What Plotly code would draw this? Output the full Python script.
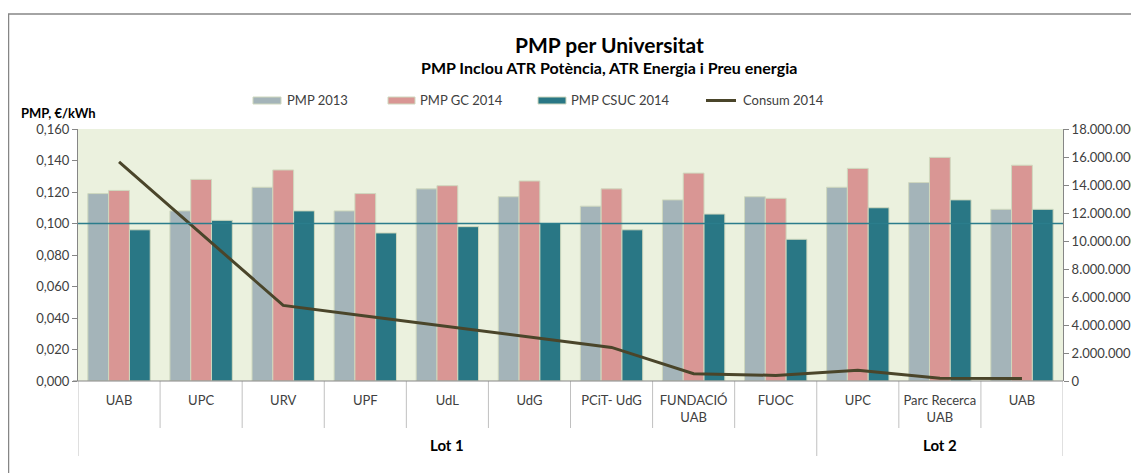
import plotly.graph_objects as go

# Data
lots = ["Lot 1"] * 9 + ["Lot 2"] * 3
centres = ["UAB", "UPC", "URV", "UPF", "UdL", "UdG", "PCiT- UdG", "FUNDACIÓ<br>UAB",
           "FUOC", "UPC", "Parc Recerca<br>UAB", "UAB"]

pmp_2013 = [0.119, 0.108, 0.123, 0.108, 0.122, 0.117, 0.111, 0.115, 0.117, 0.123, 0.126, 0.109]
pmp_gc_2014 = [0.121, 0.128, 0.134, 0.119, 0.124, 0.127, 0.122, 0.132, 0.116, 0.135, 0.142, 0.137]
pmp_csuc_2014 = [0.096, 0.102, 0.108, 0.094, 0.098, 0.100, 0.096, 0.106, 0.090, 0.110, 0.115, 0.109]
consum_2014 = [15650000, 10500000, 5400000, 4650000, 3900000, 3150000, 2400000,
               520000, 400000, 770000, 190000, 170000]

reference_pmp = 0.100

C_2013 = "#A4B4B9"
C_GC = "#D99694"
C_CSUC = "#297785"
C_LINE = "#4A452A"
C_REF = "#2B7D8C"
EDGE = "#CFD8BE"
GRAY = "#868686"
TXT = "#404040"
FONT = "Lato"

# the page body adds an 8px margin, so the figure is drawn 8px smaller
PAGE_OFF = 8
FIG_W, FIG_H = 1139 - PAGE_OFF, 473 - PAGE_OFF

# plot area in window pixels
L, R, T, B = 78, 1063, 129, 381
W = R - L
H = B - T


def px_x(p):
    return (p - L) / W


def px_y(p):
    return (B - p) / H


x = list(range(len(centres)))

fig = go.Figure()

bar_series = [
    ("PMP 2013", pmp_2013, C_2013),
    ("PMP GC 2014", pmp_gc_2014, C_GC),
    ("PMP CSUC 2014", pmp_csuc_2014, C_CSUC),
]
for name, vals, col in bar_series:
    fig.add_trace(go.Bar(
        x=x, y=vals, name=name, showlegend=False,
        marker=dict(color=col, line=dict(color=EDGE, width=1)),
    ))

fig.add_trace(go.Scatter(
    x=x, y=consum_2014, name="Consum 2014", yaxis="y2", showlegend=False,
    mode="lines", line=dict(color=C_LINE, width=3),
))

# reference line at 0,100
fig.add_hline(y=reference_pmp, line=dict(color=C_REF, width=1.5), layer="above")

# category dividers under the axis
for i in range(len(centres) + 1):
    xv = i - 0.5
    full = i == 0 or i == len(centres) or lots[i] != lots[i - 1]
    fig.add_shape(type="line", xref="x", yref="paper", x0=xv, x1=xv,
                  y0=0, y1=px_y(456 if full else 428),
                  line=dict(color="#C0C0C0", width=1))

# lot labels
for lot in ["Lot 1", "Lot 2"]:
    idx = [i for i, l in enumerate(lots) if l == lot]
    fig.add_annotation(x=(idx[0] + idx[-1]) / 2, y=px_y(445), xref="x", yref="paper",
                       xanchor="center", yanchor="middle",
                       text=f"<b>{lot}</b>", showarrow=False,
                       font=dict(size=15, color="#000000", family=FONT))

# titles
fig.add_annotation(x=px_x(609), y=px_y(44), xref="paper", yref="paper",
                   xanchor="center", yanchor="middle",
                   text="<b>PMP per Universitat</b>", showarrow=False,
                   font=dict(size=21, color="#000000", family=FONT))
fig.add_annotation(x=px_x(609), y=px_y(67), xref="paper", yref="paper",
                   xanchor="center", yanchor="middle",
                   text="<b>PMP Inclou ATR Potència, ATR Energia i Preu energia</b>",
                   showarrow=False, font=dict(size=16, color="#000000", family=FONT))
fig.add_annotation(x=px_x(19), y=px_y(113), xref="paper", yref="paper",
                   xanchor="left", yanchor="middle",
                   text="<b>PMP, €/kWh</b>", showarrow=False,
                   font=dict(size=13, color="#000000", family=FONT))

# legend drawn by hand (wide swatches like the original)
legend_items = [
    ("PMP 2013", C_2013, "rect", 253, 281, 285),
    ("PMP GC 2014", C_GC, "rect", 388, 415, 418),
    ("PMP CSUC 2014", C_CSUC, "rect", 538, 566, 569),
    ("Consum 2014", C_LINE, "line", 706, 736, 741),
]
for label, col, kind, x0, x1, xt in legend_items:
    if kind == "rect":
        fig.add_shape(type="rect", xref="paper", yref="paper",
                      x0=px_x(x0), x1=px_x(x1), y0=px_y(104), y1=px_y(97),
                      fillcolor=col, line=dict(color=EDGE, width=1))
    else:
        fig.add_shape(type="line", xref="paper", yref="paper",
                      x0=px_x(x0), x1=px_x(x1), y0=px_y(100.5), y1=px_y(100.5),
                      line=dict(color=col, width=3))
    fig.add_annotation(x=px_x(xt), y=px_y(100.5), xref="paper", yref="paper",
                       xanchor="left", yanchor="middle", text=label, showarrow=False,
                       font=dict(size=13, color=TXT, family=FONT))

# outer chart border
fig.add_shape(type="rect", xref="paper", yref="paper",
              x0=px_x(8.5), x1=px_x(1160), y0=px_y(14), y1=px_y(490),
              line=dict(color=GRAY, width=1.5), layer="below")

fig.update_layout(
    width=FIG_W, height=FIG_H,
    margin=dict(l=L - PAGE_OFF, r=1139 - R, t=T - PAGE_OFF, b=473 - B, autoexpand=False),
    paper_bgcolor="white",
    plot_bgcolor="#EBF1DE",
    separators=",.",
    font=dict(family=FONT, size=13, color=TXT),
    barmode="group", bargap=0.24, bargroupgap=0,
    showlegend=False,
    xaxis=dict(
        range=[-0.5, len(centres) - 0.5], tickvals=x, ticktext=centres,
        showgrid=False, zeroline=False, showline=False, ticks="",
        tickfont=dict(size=13, color=TXT), ticklabelstandoff=10,
    ),
    yaxis=dict(
        range=[0, 0.16], dtick=0.02, tickformat=".3f", showgrid=False, zeroline=False,
        showline=True, linecolor=GRAY, linewidth=1, ticks="outside", ticklen=5,
        tickcolor=GRAY, tickfont=dict(size=13, color=TXT),
    ),
    yaxis2=dict(
        range=[0, 18000000], dtick=2000000, tickformat=",d", overlaying="y", side="right",
        showgrid=False, zeroline=False, showline=True, linecolor=GRAY, linewidth=1,
        ticks="outside", ticklen=5, tickcolor=GRAY, tickfont=dict(size=13, color=TXT),
    ),
)

# bottom axis line
fig.add_shape(type="line", xref="paper", yref="paper", x0=px_x(73), x1=1, y0=0, y1=0,
              line=dict(color=GRAY, width=1))

fig.write_html("out.html")
